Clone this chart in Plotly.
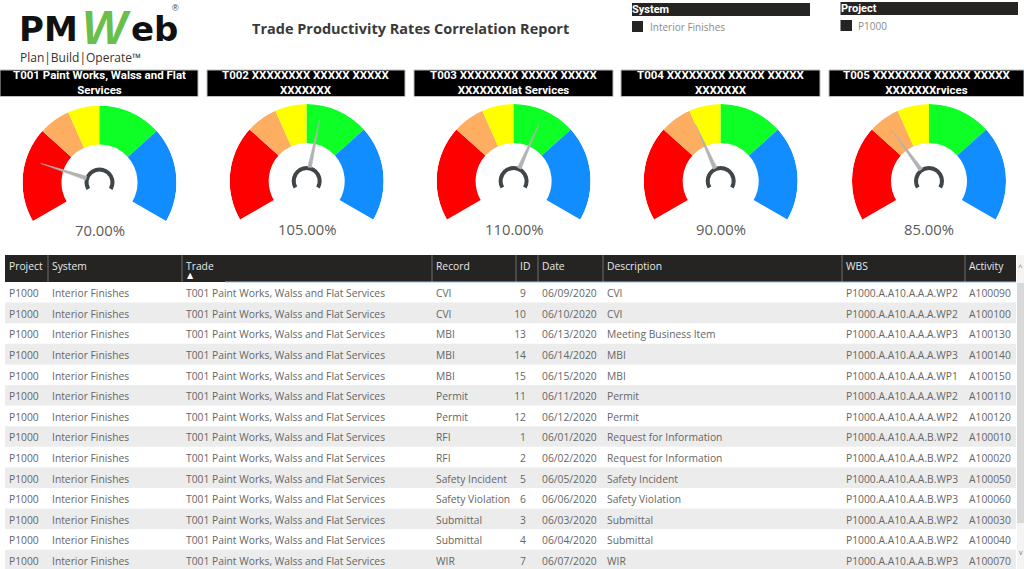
import plotly.graph_objects as go

W, H = 1024, 569

# gauge data
gauge_titles = [
    'T001 Paint Works, Walss and Flat<br>Services',
    'T002 XXXXXXXX XXXXX XXXXX<br>XXXXXXX',
    'T003 XXXXXXXX XXXXX XXXXX<br>XXXXXXXlat Services',
    'T004 XXXXXXXX XXXXX XXXXX<br>XXXXXXX',
    'T005 XXXXXXXX XXXXX XXXXX<br>XXXXXXXrvices',
]
gauge_values = [70, 105, 110, 90, 85]
gauge_steps = [50, 80, 90, 100, 120, 150]
gauge_colors = ['#ff0000', '#fdae61', '#ffff00', '#0dff26', '#118dff']

# table data
columns = ['Project', 'System', 'Trade', 'Record', 'ID', 'Date', 'Description', 'WBS', 'Activity']
col_edges = [5, 48, 182, 432, 516, 538, 603, 842, 965, 1016]
records = ['CVI', 'CVI', 'MBI', 'MBI', 'MBI', 'Permit', 'Permit', 'RFI', 'RFI',
           'Safety Incident', 'Safety Violation', 'Submittal', 'Submittal', 'WIR']
ids = [9, 10, 13, 14, 15, 11, 12, 1, 2, 5, 6, 3, 4, 7]
dates = ['06/09/2020', '06/10/2020', '06/13/2020', '06/14/2020', '06/15/2020', '06/11/2020', '06/12/2020',
         '06/01/2020', '06/02/2020', '06/05/2020', '06/06/2020', '06/03/2020', '06/04/2020', '06/07/2020']
descriptions = ['CVI', 'CVI', 'Meeting Business Item', 'MBI', 'MBI', 'Permit', 'Permit',
                'Request for Information', 'Request for Information', 'Safety Incident',
                'Safety Violation', 'Submittal', 'Submittal', 'WIR']
wbs = ['P1000.A.A10.A.A.A.WP2', 'P1000.A.A10.A.A.A.WP2', 'P1000.A.A10.A.A.A.WP3', 'P1000.A.A10.A.A.A.WP3',
       'P1000.A.A10.A.A.A.WP1', 'P1000.A.A10.A.A.A.WP2', 'P1000.A.A10.A.A.A.WP2', 'P1000.A.A10.A.A.B.WP2',
       'P1000.A.A10.A.A.B.WP2', 'P1000.A.A10.A.A.B.WP3', 'P1000.A.A10.A.A.B.WP3', 'P1000.A.A10.A.A.B.WP2',
       'P1000.A.A10.A.A.B.WP2', 'P1000.A.A10.A.A.B.WP3']
activities = ['A100090', 'A100100', 'A100130', 'A100140', 'A100150', 'A100110', 'A100120',
              'A100010', 'A100020', 'A100050', 'A100060', 'A100030', 'A100040', 'A100070']
n_rows = len(ids)
projects = ['P1000'] * n_rows
systems = ['Interior Finishes'] * n_rows
trades = ['T001 Paint Works, Walss and Flat Services'] * n_rows

# layout in pixels
gauge_cx = [99.5, 306.7, 513.6, 720.7, 929]
gauge_cy = [182.5, 181, 181, 181, 181]
title_boxes = [(0, 198), (207, 405), (414, 613), (621, 820), (829, 1024)]
R_OUT, R_IN = 77, 38
HEADER_TOP, HEADER_BOTTOM = 255, 282
ROW_H = 20.6
FONT = 'Open Sans'
HEAD_FONT = 'Roboto'
TEXT_GREY = '#666666'


def px(x):
    return x / W


def py(y):
    return 1 - y / H


def to_angle(v):
    # scale 50..150 % sweeps 240 degrees, 100 % on top
    return (v - 100) * 2.4


def rect(x0, y0, x1, y1, color, line=None):
    return dict(type='rect', xref='paper', yref='paper', x0=px(x0), x1=px(x1), y0=py(y0), y1=py(y1),
                fillcolor=color, line=dict(color=line or color, width=1 if line else 0), layer='below')


def label(x, y, text, size, color, family=FONT, anchor='center', bold=False):
    return dict(xref='paper', yref='paper', x=px(x), y=py(y), text=f'<b>{text}</b>' if bold else text,
                showarrow=False, xanchor=anchor, yanchor='middle',
                font=dict(size=size, color=color, family=family), borderpad=0, borderwidth=0)


fig = go.Figure()
shapes, annotations = [], []
polar_layouts = {}

for i, value in enumerate(gauge_values):
    name = 'polar' if i == 0 else f'polar{i + 1}'
    cx, cy = gauge_cx[i], gauge_cy[i]
    lows, highs = gauge_steps[:-1], gauge_steps[1:]
    mids = [to_angle((a + b) / 2) for a, b in zip(lows, highs)]
    widths = [to_angle(b) - to_angle(a) for a, b in zip(lows, highs)]

    # coloured bands
    fig.add_trace(go.Barpolar(r=[R_OUT - R_IN] * 5, base=R_IN, theta=mids, width=widths,
                              marker=dict(color=gauge_colors, line=dict(width=0)),
                              subplot=name, showlegend=False, hoverinfo='skip'))
    # needle
    a = to_angle(value)
    fig.add_trace(go.Scatterpolar(r=[62, 14, 14, 62], theta=[a, a - 8, a + 8, a], mode='lines',
                                  fill='toself', fillcolor='#b3b3b3', line=dict(color='#b3b3b3', width=0.5),
                                  subplot=name, showlegend=False, hoverinfo='skip'))
    # hub
    fig.add_trace(go.Barpolar(r=[4], base=11, theta=[0], width=[240],
                              marker=dict(color='#3f4548', line=dict(width=0)),
                              subplot=name, showlegend=False, hoverinfo='skip'))

    polar_layouts[name] = dict(
        domain=dict(x=[px(cx - R_OUT), px(cx + R_OUT)], y=[py(cy + R_OUT), py(cy - R_OUT)]),
        bgcolor='rgba(0,0,0,0)', barmode='overlay',
        radialaxis=dict(visible=False, range=[0, R_OUT]),
        angularaxis=dict(visible=False, direction='clockwise', rotation=90),
    )

    x0, x1 = title_boxes[i]
    shapes.append(rect(x0, 70, x1, 96.5, '#000000', line='#bdbdbd'))
    annotations.append(label((x0 + x1) / 2, 83, gauge_titles[i], 11.5, '#ffffff', HEAD_FONT, bold=True))
    annotations.append(label(cx, cy + 47.5, f'{value:.2f}%', 14.8, '#5a5a5a'))

# table background
for r in range(1, n_rows, 2):
    shapes.append(rect(5, HEADER_BOTTOM + r * ROW_H, 1016, HEADER_BOTTOM + (r + 1) * ROW_H, '#ececec'))
shapes.append(rect(5, HEADER_TOP, 1016, HEADER_BOTTOM, '#252423'))
for edge in col_edges[1:-1]:
    shapes.append(dict(type='line', xref='paper', yref='paper', x0=px(edge), x1=px(edge),
                       y0=py(HEADER_TOP), y1=py(HEADER_BOTTOM), line=dict(color='#6e6e6e', width=1), layer='below'))
shapes.append(dict(type='line', xref='paper', yref='paper', x0=px(225), x1=px(1016),
                   y0=py(HEADER_BOTTOM), y1=py(HEADER_BOTTOM), line=dict(color='#9dbbd6', width=1), layer='below'))

# scrollbar
shapes.append(rect(1017, 255, 1024, 569, '#f3f3f3'))
shapes.append(rect(1017, 283, 1024, 523, '#d9d9d9'))
annotations.append(label(1020.5, 266, '^', 8, '#777777'))
annotations.append(label(1020.5, 552, 'v', 7, '#777777'))

# slicers
shapes += [rect(632, 3, 810, 16, '#252423'), rect(632, 21, 643, 32, '#252423'),
           rect(840.5, 2, 1018, 15, '#252423'), rect(840.5, 20, 852, 31, '#252423')]
annotations += [
    label(632, 10, 'System', 11, '#ffffff', HEAD_FONT, 'left', True),
    label(840.5, 9, 'Project', 11, '#ffffff', HEAD_FONT, 'left', True),
    label(649.5, 27, 'Interior Finishes', 10, '#8a8a8a', FONT, 'left'),
    label(858, 26, 'P1000', 10, '#8a8a8a', FONT, 'left'),
    label(410, 29, 'Trade Productivity Rates Correlation Report', 14.5, '#3a3a3a', FONT, bold=True),
    label(190.5, 275.5, '▲', 8, '#ffffff', 'DejaVu Sans'),
]

# logo
annotations += [
    label(19, 29, 'PM', 34, '#111111', 'DejaVu Sans', 'left', True),
    label(131, 29, 'eb', 34, '#111111', 'DejaVu Sans', 'left', True),
    label(106, 28, '<i>W</i>', 48, '#6abf4b', 'Liberation Sans', bold=True),
    label(175, 8, '®', 9, '#444444', 'Liberation Sans'),
    label(20, 57, 'Plan|Build|Operate™', 12, '#333333', 'Open Sans', 'left'),
]

# spaces would make the table wrap and grow its rows
nb = lambda items: [str(t).replace(' ', '\u00a0') for t in items]
fig.add_trace(go.Table(
    domain=dict(x=[px(1), px(1012)], y=[0, py(HEADER_TOP - 0.5)]),
    columnwidth=[b - a for a, b in zip(col_edges[:-1], col_edges[1:])],
    header=dict(values=columns, height=27, align='left',
                fill=dict(color='rgba(0,0,0,0)'), line=dict(width=0),
                font=dict(size=10.3, color='#e8e8e8', family=FONT)),
    cells=dict(values=[nb(projects), nb(systems), nb(trades), nb(records), ids, dates,
                       nb(descriptions), nb(wbs), nb(activities)],
               height=ROW_H, align=['left'] * 4 + ['right'] + ['left'] * 4,
               fill=dict(color='rgba(0,0,0,0)'), line=dict(width=0),
               font=dict(size=10.3, color=TEXT_GREY, family=FONT)),
))

fig.update_layout(width=W, height=H, margin=dict(l=0, r=0, t=0, b=0), paper_bgcolor='white',
                  plot_bgcolor='white', showlegend=False, shapes=shapes, annotations=annotations,
                  **polar_layouts)

# page margin would push the figure 8 px off
fig.write_html('out.html', config=dict(displayModeBar=False),
               post_script="document.body.style.margin='0';")
